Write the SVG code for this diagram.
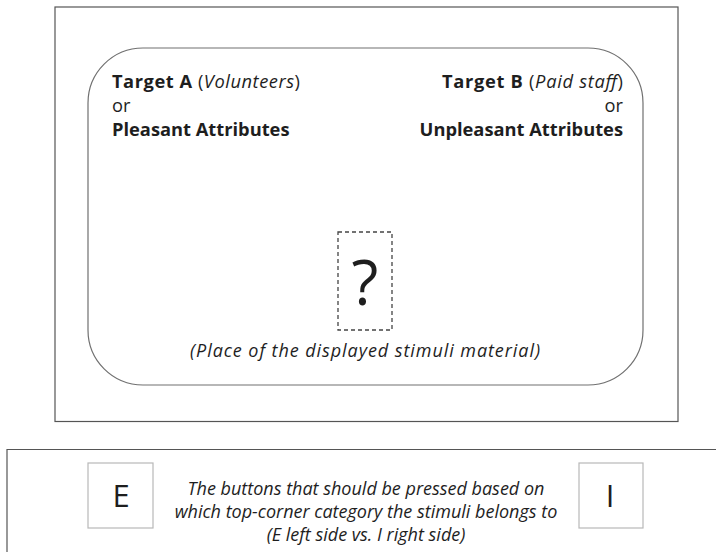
<svg xmlns="http://www.w3.org/2000/svg" width="716" height="552" viewBox="0 0 716 552">
  <style>
    .frame { fill: #ffffff; stroke: #555555; stroke-width: 1.2; }
    .screen { fill: none; stroke: #707070; stroke-width: 1.2; }
    .key { fill: #ffffff; stroke: #b8b8b8; stroke-width: 1.2; }
    .slot { fill: none; stroke: #444444; stroke-width: 1.3; stroke-dasharray: 4 3; }
    text { font-family: "Open Sans", "Liberation Sans", sans-serif; fill: #1e1e1e; }
    .label { font-size: 18.3px; }
    .b { font-weight: bold; }
    .i { font-style: italic; }
    .note { font-size: 18px; font-style: italic; }
    .keytext { font-size: 31px; }
  </style>
  <rect width="716" height="552" fill="#ffffff"/>

  <g id="screen-frame">
    <rect class="frame" x="55" y="7" width="623" height="414.5"/>
    <rect class="screen" x="88" y="48" width="555" height="337" rx="55" ry="55"/>
  </g>

  <g id="target-a">
    <text class="label" x="112" y="88" textLength="188" lengthAdjust="spacing"><tspan class="b">Target A</tspan> (<tspan class="i">Volunteers</tspan>)</text>
    <text class="label" x="112" y="112">or</text>
    <text class="label b" x="112" y="136">Pleasant Attributes</text>
  </g>

  <g id="target-b">
    <text class="label" x="623" y="88" text-anchor="end" textLength="181" lengthAdjust="spacing"><tspan class="b">Target B</tspan> (<tspan class="i">Paid staff</tspan>)</text>
    <text class="label" x="623" y="112" text-anchor="end">or</text>
    <text class="label b" x="623" y="136" text-anchor="end">Unpleasant Attributes</text>
  </g>

  <g id="stimulus">
    <rect class="slot" x="338" y="232" width="54" height="98"/>
    <text x="365" y="305" text-anchor="middle" font-size="62">?</text>
    <text class="note" x="365" y="357" text-anchor="middle" font-size="19.5px" textLength="350" lengthAdjust="spacing">(Place of the displayed stimuli material)</text>
  </g>

  <g id="keyboard">
    <path d="M716 449.5 H7 V552" fill="none" stroke="#555555" stroke-width="1.2"/>
  </g>

  <g id="key-e">
    <rect class="key" x="88" y="463" width="65" height="65"/>
    <text class="keytext" x="121" y="507" text-anchor="middle">E</text>
  </g>

  <g id="key-i">
    <rect class="key" x="579" y="463" width="64" height="65"/>
    <text class="keytext" x="610" y="507" text-anchor="middle">I</text>
  </g>

  <g id="instructions">
    <text class="note" x="366" y="495" text-anchor="middle">The buttons that should be pressed based on</text>
    <text class="note" x="366" y="518" text-anchor="middle">which top-corner category the stimuli belongs to</text>
    <text class="note" x="366" y="541" text-anchor="middle">(E left side vs. I right side)</text>
  </g>

  <g id="connectors"></g>
</svg>
